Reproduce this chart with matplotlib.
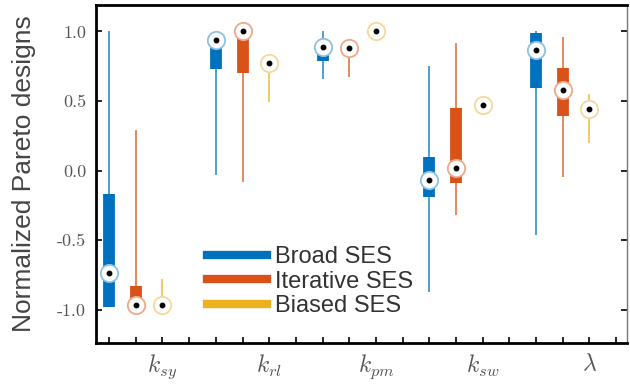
import matplotlib
matplotlib.use("Agg")
import matplotlib.pyplot as plt
from matplotlib.lines import Line2D
import numpy as np

plt.rcParams['mathtext.fontset'] = 'cm'
plt.rcParams['font.family'] = ['Liberation Sans', 'DejaVu Sans']

groups = [r'$k_{sy}$', r'$k_{rl}$', r'$k_{pm}$', r'$k_{sw}$', r'$\lambda$']
series = ['Broad SES', 'Iterative SES', 'Biased SES']
colors = ['#0072BD', '#D95319', '#EDB120']
ring_colors = ['#8EC0E4', '#EFA88A', '#F4D89A']

broad_med = [-0.74, 0.94, 0.89, -0.065, 0.87]
broad_q1 = [-0.98, 0.73, 0.79, -0.19, 0.59]
broad_q3 = [-0.17, 0.89, 0.93, 0.10, 0.99]
broad_lo = [-0.98, -0.03, 0.66, -0.87, -0.46]
broad_hi = [1.0, 0.97, 1.0, 0.75, 1.0]

iter_med = [-0.97, 1.0, 0.88, 0.02, 0.58]
iter_q1 = [-0.97, 0.70, 0.86, -0.09, 0.39]
iter_q3 = [-0.83, 0.98, 0.90, 0.45, 0.74]
iter_lo = [-0.97, -0.08, 0.67, -0.32, -0.05]
iter_hi = [0.29, 1.0, 0.90, 0.92, 0.96]

bias_med = [-0.97, 0.77, 1.0, 0.47, 0.44]
bias_q1 = [-0.97, 0.76, 1.0, 0.47, 0.41]
bias_q3 = [-0.96, 0.78, 1.0, 0.47, 0.47]
bias_lo = [-0.97, 0.49, 1.0, 0.47, 0.20]
bias_hi = [-0.78, 0.80, 1.0, 0.47, 0.55]

yticks = [-1.0, -0.5, 0.0, 0.5, 1.0]
ytick_labels = ['-1.0', '-0.5', '0.0', '0.5', '1.0']

stats = [
    (broad_med, broad_q1, broad_q3, broad_lo, broad_hi),
    (iter_med, iter_q1, iter_q3, iter_lo, iter_hi),
    (bias_med, bias_q1, bias_q3, bias_lo, bias_hi),
]

fig = plt.figure(figsize=(6.3, 3.85), dpi=100)
ax = fig.add_axes([0.152, 0.109, 0.843, 0.878])

ngroups = len(groups)
for j, (med, q1, q3, lo, hi) in enumerate(stats):
    pos = np.arange(ngroups) * 4 + j + 1
    ax.vlines(pos, lo, hi, color=colors[j], lw=1.2, alpha=0.8, zorder=2)
    ax.vlines(pos, q1, q3, color=colors[j], lw=8.5, zorder=3, capstyle='butt')
    ax.plot(pos, med, 'o', ms=12.5, mfc='white', mec=ring_colors[j], mew=1.3,
            ls='none', zorder=4)
    ax.plot(pos, med, 'o', ms=3.2, mfc='black', mec='black', ls='none', zorder=5)

ax.set_xlim(0.5, 20.4)
ax.set_ylim(-1.24, 1.19)

ax.set_xticks(np.arange(1, 21))
xlabels = [''] * 20
for i, g in enumerate(groups):
    xlabels[i * 4 + 2] = g
ax.set_xticklabels(xlabels, fontsize=17)
ax.set_yticks(yticks)
ax.set_yticklabels(ytick_labels, family='cmr10', fontsize=13)

ax.tick_params(axis='x', direction='in', length=4, width=1.2, pad=7, colors='black',
               top=False)
ax.tick_params(axis='y', direction='in', length=4, width=1.2, pad=7, right=True)
for lab in ax.get_xticklabels():
    lab.set_color('#555555')
for lab in ax.get_yticklabels():
    lab.set_color('#555555')

for s in ['left', 'bottom', 'top']:
    ax.spines[s].set_linewidth(2.0)
    ax.spines[s].set_color('black')
ax.spines['right'].set_linewidth(1.0)
ax.spines['right'].set_color('#777777')

ax.set_ylabel('Normalized Pareto designs', fontsize=19, color='#444444', labelpad=15)

handles = [Line2D([], [], color=c, lw=6) for c in colors]
leg = ax.legend(handles, series, loc='upper left', bbox_to_anchor=(0.201, 0.30),
                frameon=False, fontsize=17, handlelength=2.55, handletextpad=0.3,
                labelspacing=0.1, borderpad=0.2, borderaxespad=0)
for t in leg.get_texts():
    t.set_color('#333333')

fig.savefig('out.png', dpi=100)
